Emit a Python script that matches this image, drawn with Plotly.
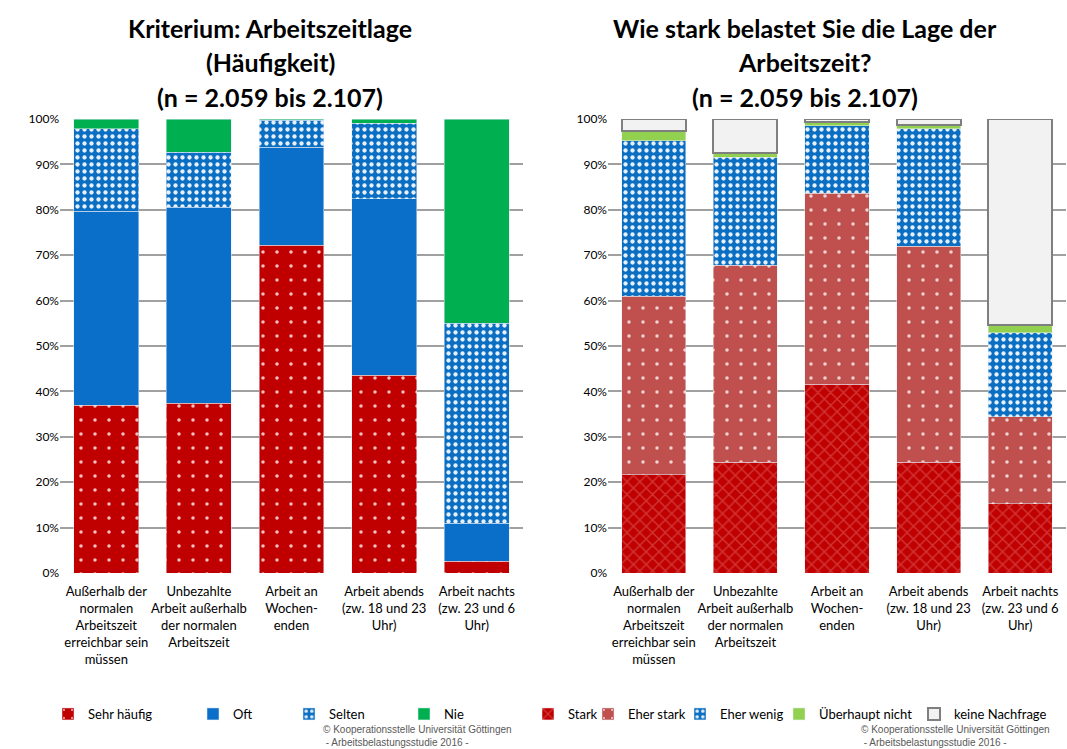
import plotly.graph_objects as go

W, H = 1067, 749

categories = [
    "Außerhalb der<br>normalen<br>Arbeitszeit<br>erreichbar sein<br>müssen",
    "Unbezahlte<br>Arbeit außerhalb<br>der normalen<br>Arbeitszeit",
    "Arbeit an<br>Wochen-<br>enden",
    "Arbeit abends<br>(zw. 18 und 23<br>Uhr)",
    "Arbeit nachts<br>(zw. 23 und 6<br>Uhr)",
]

# Left chart: Häufigkeit (%)
sehr_haeufig = [37.0, 37.4, 72.2, 43.6, 2.6]
oft = [42.7, 43.2, 21.6, 38.8, 8.4]
selten = [18.1, 12.1, 5.9, 16.7, 44.0]
nie = [2.2, 7.3, 0.3, 0.9, 45.0]

# Right chart: Belastung (%)
stark = [21.6, 24.4, 41.6, 24.4, 15.2]
eher_stark = [39.4, 43.4, 42.1, 47.6, 19.2]
eher_wenig = [34.2, 23.8, 14.8, 25.8, 18.5]
ueberhaupt_nicht = [2.2, 1.0, 0.9, 0.9, 1.7]
keine_nachfrage = [2.6, 7.4, 0.6, 1.3, 45.4]

y_ticks = [0, 10, 20, 30, 40, 50, 60, 70, 80, 90, 100]
y_tick_labels = [f"{v}%" for v in y_ticks]

FONT = "Lato"

def px_x(p):
    return p / W

def px_y(p):
    return 1 - p / H

fig = go.Figure()

dots_red = dict(shape=".", bgcolor="#C00000", fgcolor="#F2C0C0", size=14, solidity=0.05, fillmode="replace")
dots_blue = dict(shape=".", bgcolor="#0A6FC2", fgcolor="#E6F0FA", size=7, solidity=0.3, fillmode="replace")
dots_lred = dict(shape=".", bgcolor="#C0504D", fgcolor="#F3D3D2", size=14, solidity=0.05, fillmode="replace")
weave_red = dict(shape="x", bgcolor="#C00000", fgcolor="#D23434", size=9, solidity=0.3, fillmode="replace")

left_series = [
    ("Sehr häufig", sehr_haeufig, dict(color="#C00000", pattern=dots_red)),
    ("Oft", oft, dict(color="#0A6FC8")),
    ("Selten", selten, dict(color="#0A6FC2", pattern=dots_blue)),
    ("Nie", nie, dict(color="#00B050")),
]
right_series = [
    ("Stark", stark, dict(color="#C00000", pattern=weave_red)),
    ("Eher stark", eher_stark, dict(color="#C0504D", pattern=dots_lred)),
    ("Eher wenig", eher_wenig, dict(color="#0A6FC2", pattern=dots_blue)),
    ("Überhaupt nicht", ueberhaupt_nicht, dict(color="#92D050")),
    ("keine Nachfrage", keine_nachfrage, dict(color="#F2F2F2", line=dict(color="#7F7F7F", width=2))),
]

# legend text start positions (px)
left_leg_x = [88, 233, 329, 444]
right_leg_x = [568, 628, 720, 819, 954]

legend_layouts = {}
idx = 1
for (name, vals, marker), lx in zip(left_series, left_leg_x):
    lname = "legend" if idx == 1 else f"legend{idx}"
    fig.add_trace(go.Bar(x=categories, y=vals, name=name, marker=marker,
                         xaxis="x", yaxis="y", legend=lname, hoverinfo="skip"))
    legend_layouts[lname] = dict(x=px_x(lx - 40), y=px_y(714), xanchor="left", yanchor="middle",
                                 orientation="h", bgcolor="rgba(0,0,0,0)",
                                 font=dict(family=FONT, size=13, color="#000"))
    idx += 1
for (name, vals, marker), lx in zip(right_series, right_leg_x):
    lname = f"legend{idx}"
    fig.add_trace(go.Bar(x=categories, y=vals, name=name, marker=marker,
                         xaxis="x2", yaxis="y2", legend=lname, hoverinfo="skip"))
    legend_layouts[lname] = dict(x=px_x(lx - 40), y=px_y(714), xanchor="left", yanchor="middle",
                                 orientation="h", bgcolor="rgba(0,0,0,0)",
                                 font=dict(family=FONT, size=13, color="#000"))
    idx += 1

yax = dict(range=[0, 100], tickvals=y_ticks, ticktext=y_tick_labels, showgrid=True,
           gridcolor="#A0A0A0", gridwidth=1.5, zeroline=False, showline=False, ticks="",
           tickfont=dict(family=FONT, size=12, color="#000"), fixedrange=True, automargin=False)
xax = dict(showgrid=False, showline=False, ticks="", tickangle=0, automargin=False,
           ticklabelstandoff=9,
           tickfont=dict(family=FONT, size=13, color="#000"), fixedrange=True)

fig.update_layout(
    width=W, height=H,
    margin=dict(l=0, r=0, t=0, b=0, autoexpand=False),
    paper_bgcolor="white", plot_bgcolor="white",
    barmode="stack", bargap=0.3,
    xaxis=dict(domain=[px_x(60), px_x(523)], anchor="y", **xax),
    yaxis=dict(domain=[px_y(573), px_y(119)], anchor="x", **yax),
    xaxis2=dict(domain=[px_x(608), px_x(1066)], anchor="y2", **xax),
    yaxis2=dict(domain=[px_y(573), px_y(119)], anchor="x2", **yax),
    showlegend=True,
    **legend_layouts,
)

title_font = dict(family=FONT, size=25, color="#000")
left_title = ["<b>Kriterium: Arbeitszeitlage</b>", "<b>(Häufigkeit)</b>", "<b>(n = 2.059 bis 2.107)</b>"]
right_title = ["<b>Wie stark belastet Sie die Lage der</b>", "<b>Arbeitszeit?</b>", "<b>(n = 2.059 bis 2.107)</b>"]
for lines, cx in ((left_title, 270), (right_title, 805)):
    for txt, ty in zip(lines, (28, 62, 97)):
        fig.add_annotation(text=txt, x=px_x(cx), y=px_y(ty), xref="paper", yref="paper",
                           xanchor="center", yanchor="middle", showarrow=False, font=title_font)

foot = "© Kooperationsstelle Universität Göttingen<br> - Arbeitsbelastungsstudie 2016 -"
for fx in (321, 859):
    fig.add_annotation(text=foot, x=px_x(fx), y=px_y(736), xref="paper", yref="paper",
                       xanchor="left", yanchor="middle", align="left", showarrow=False,
                       font=dict(family="Liberation Sans", size=10, color="#595959"))

fig.write_html("out.html", config={"displayModeBar": False},
               post_script="document.body.style.margin='0';document.body.style.overflow='hidden';")
